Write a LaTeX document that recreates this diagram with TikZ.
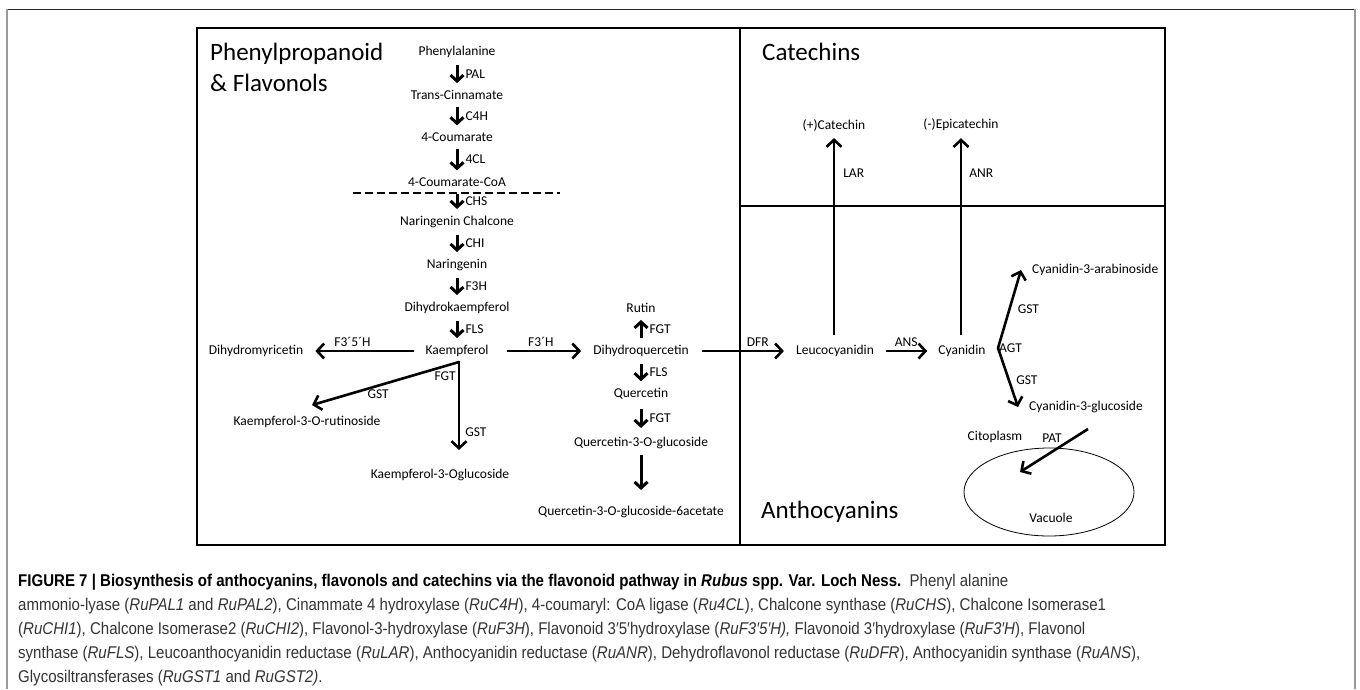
\documentclass[tikz,border=0pt]{standalone}
\usepackage{fontspec}
\setmainfont{Carlito}
\newfontfamily\capfont{Liberation Sans}[FakeStretch=0.885]
\usetikzlibrary{arrows.meta,positioning}

\tikzset{
  cmp/.style={font=\fontsize{13.5}{15}\selectfont, inner sep=2pt},
  enz/.style={font=\fontsize{13.5}{15}\selectfont, inner sep=2pt},
  panel/.style={font=\fontsize{25}{31}\selectfont, align=left, inner sep=0pt, anchor=west},
  stp/.style={line width=3pt, -{Straight Barb[length=6pt,width=13pt]}, shorten <=5pt, shorten >=5pt},
  arr/.style={line width=2.6pt, -{Straight Barb[length=7pt,width=15pt]}},
  frame/.style={line width=2pt},
  capline/.style={font=\capfont\fontsize{17}{24}\selectfont, anchor=base west, inner sep=0pt, text=black!80},
}

\begin{document}
\begin{tikzpicture}[x=1pt,y=-1pt]
\useasboundingbox (0,0) rectangle (1360,689);

		% outer frame of the figure
		\draw[black!85, line width=1pt] (7,9) -- (1355,9);
		\draw[black!40, line width=1.5pt] (7,9) -- (7,689);
		\draw[black!40, line width=1.5pt] (1355,9) -- (1355,689);

		% panels
		\draw[frame] (197,28) rectangle (1165,545);
		\draw[frame] (740,28) -- (740,545);
		\draw[frame] (740,206) -- (1165,206);

		\node[panel] (ttlA) at (210,67) {Phenylpropanoid\\\& Flavonols};
		\node[panel] (ttlB) at (762,52) {Catechins};
		\node[panel] (ttlC) at (761,512) {Anthocyanins};

		% phenylpropanoid chain
		\node[cmp] (phe) at (457,52) {Phenylalanine};
		\node[cmp] (tci) at (457,95) {Trans-Cinnamate};
		\node[cmp] (cou) at (457,137) {4-Coumarate};
		\node[cmp] (coa) at (457,182) {4-Coumarate-CoA};
		\node[cmp] (nch) at (457,222) {Naringenin Chalcone};
		\node[cmp] (nar) at (457,265) {Naringenin};
		\node[cmp] (dhk) at (457,308) {Dihydrokaempferol};
		\node[cmp] (kae) at (457,351) {Kaempferol};

		\draw[line width=2.5pt, dash pattern=on 8pt off 4pt] (353,193) -- (560,193);

		\foreach \a/\b/\e in {phe/tci/PAL, tci/cou/C4H, cou/coa/4CL, coa/nch/CHS, nch/nar/CHI, nar/dhk/F3H, dhk/kae/FLS}
			\draw[stp] (\a) -- (\b) node[enz, midway, right=5pt] {\e};

		% flavonols
		\node[cmp] (dhm) at (256,351) {Dihydromyricetin};
		\node[cmp] (k3r) at (307,422) {Kaempferol-3-O-rutinoside};
		\node[cmp] (k3g) at (440,475) {Kaempferol-3-Oglucoside};
		\node[cmp] (rut) at (641,308) {Rutin};
		\node[cmp] (dhq) at (641,351) {Dihydroquercetin};
		\node[cmp] (que) at (641,394) {Quercetin};
		\node[cmp] (q3g) at (641,443) {Quercetin-3-O-glucoside};
		\node[cmp] (q3ga) at (631,512) {Quercetin-3-O-glucoside-6acetate};

		\draw[arr, shorten <=9pt, shorten >=10pt] (kae) -- (dhm) node[enz, pos=0.6, above=1pt] {F3´5´H};
		\draw[arr, shorten <=16pt, shorten >=10pt] (kae) -- (dhq) node[enz, midway, above=1pt] {F3´H};

		\coordinate (kfk) at ([xshift=2pt,yshift=-3pt]kae.south);
		\draw[arr, line cap=round] (kfk) -- ([xshift=5pt,yshift=9pt]k3r.north) node[enz, pos=0.55, below=1pt] {GST};
		\draw[arr, line cap=round] (kfk) -- ([yshift=17pt]kfk |- k3g.north)
			node[enz, pos=0.16, left=0pt] {FGT} node[enz, pos=0.8, right=3pt] {GST};

		\draw[stp] (dhq) -- (rut) node[enz, midway, right=5pt] {FGT};
		\draw[stp] (dhq) -- (que) node[enz, midway, right=5pt] {FLS};
		\draw[stp, shorten <=7pt, shorten >=7pt] (que) -- (q3g) node[enz, midway, right=5pt] {FGT};
		\draw[stp, shorten <=4pt, shorten >=14pt] (q3g.south) -- (q3g.south |- q3ga.north);

		% catechins and anthocyanins
		\node[cmp] (leu) at (835,351) {Leucocyanidin};
		\node[cmp] (cya) at (962,351) {Cyanidin};
		\node[cmp] (cat) at (834,125) {(+)Catechin};
		\node[cmp] (epi) at (961,125) {(-)Epicatechin};
		\node[cmp, anchor=west] (c3a) at (1030,270) {Cyanidin-3-arabinoside};
		\node[cmp, anchor=west] (c3g) at (1027,407) {Cyanidin-3-glucoside};
		\node[cmp] (cit) at (995,437) {Citoplasm};
		\node[cmp] (vac) at (1051,518) {Vacuole};

		\draw[arr, shorten <=11pt, shorten >=10pt] (dhq) -- (leu) node[enz, pos=0.65, above=1pt] {DFR};
		\draw[arr, shorten <=10pt, shorten >=9pt] (leu) -- (cya) node[enz, midway, above=1pt] {ANS};
		\draw[arr, shorten <=8pt, shorten >=5pt] (cat.south |- leu.north) -- (cat.south) node[enz, pos=0.81, right=6pt] {LAR};
		\draw[arr, shorten <=8pt, shorten >=5pt] (epi.south |- cya.north) -- (epi.south) node[enz, pos=0.81, right=5pt] {ANR};

		\coordinate (agt) at (998,348);
		\node[enz, anchor=west, inner sep=1pt] (agtl) at (agt) {AGT};
		\draw[arr, line cap=round] (agt) -- ([xshift=-9pt]c3a.west) node[enz, midway, right=5pt] {GST};
		\draw[arr, line cap=round] (agt) -- ([xshift=-9pt]c3g.west) node[enz, pos=0.55, right=4pt] {GST};

		% vacuole
		\draw[line width=0.8pt] (1049,492) ellipse [x radius=85pt, y radius=44pt];
		\coordinate (patS) at (1088,429);
		\coordinate (patE) at (1020,472);
		\draw[arr] (patS) -- (patE) node[enz, pos=0.22, left=8pt] {PAT};

		% caption
		\node[capline] (cap1) at (18,586) {{\color{black}\bfseries FIGURE 7 | Biosynthesis of anthocyanins, flavonols and catechins via the flavonoid pathway in \textit{Rubus} spp. Var. Loch Ness.}\ \ Phenyl alanine};
		\node[capline] (cap2) at (18,610) {ammonio-lyase (\textit{RuPAL1} and \textit{RuPAL2}), Cinammate 4 hydroxylase (\textit{RuC4H}), 4-coumaryl: CoA ligase (\textit{Ru4CL}), Chalcone synthase (\textit{RuCHS}), Chalcone Isomerase1};
		\node[capline] (cap3) at (18,634) {(\textit{RuCHI1}), Chalcone Isomerase2 (\textit{RuCHI2}), Flavonol-3-hydroxylase (\textit{RuF3H}), Flavonoid 3′5′hydroxylase (\textit{RuF3′5′H),} Flavonoid 3′hydroxylase (\textit{RuF3′H}), Flavonol};
		\node[capline] (cap4) at (18,658) {synthase (\textit{RuFLS}), Leucoanthocyanidin reductase (\textit{RuLAR}), Anthocyanidin reductase (\textit{RuANR}), Dehydroflavonol reductase (\textit{RuDFR}), Anthocyanidin synthase (\textit{RuANS}),};
		\node[capline] (cap5) at (18,682) {Glycosiltransferases (\textit{RuGST1} and \textit{RuGST2)}.};

	\end{tikzpicture}
\end{document}
